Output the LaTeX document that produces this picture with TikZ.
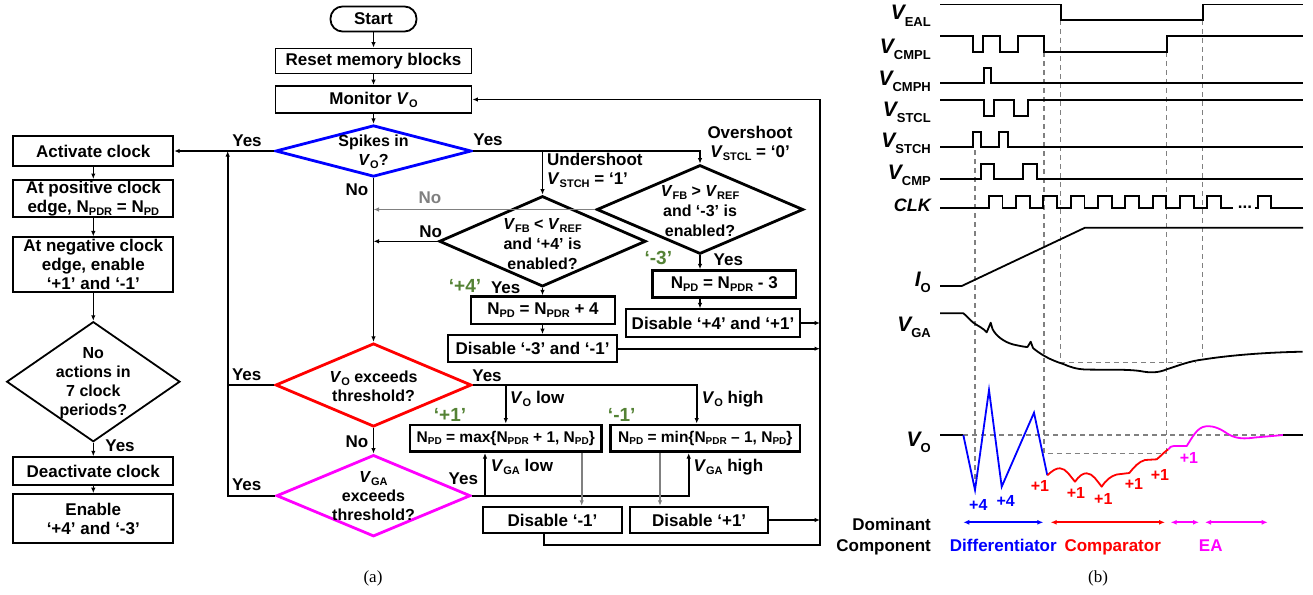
\documentclass[tikz,border=0pt]{standalone}
\usepackage{fontspec}
\setmainfont{Liberation Sans}
\newfontfamily\capfont{Liberation Serif}
\usetikzlibrary{shapes.geometric,arrows.meta}
\definecolor{fgreen}{RGB}{84,130,53}
\definecolor{dgray}{RGB}{128,128,128}
\definecolor{fblue}{RGB}{0,0,255}
\definecolor{fred}{RGB}{255,0,0}
\definecolor{fmag}{RGB}{255,0,255}
\newcommand\sbx[1]{\raisebox{-3pt}{\fontsize{11}{11}\selectfont #1}}
\newcommand\sbs[1]{\raisebox{-2.5pt}{\fontsize{10}{10}\selectfont #1}}
\newcommand\tlab[2]{{\fontsize{21}{21}\selectfont\itshape #1}\raisebox{-6pt}{\fontsize{13}{13}\selectfont #2}}
\begin{document}
\begin{tikzpicture}[x=1pt,y=-1pt,
  every node/.style={font=\fontsize{17}{19}\selectfont\bfseries},
  box/.style={draw, line width=1.8pt, inner sep=0pt, align=center},
  tbox/.style={box, line width=2.8pt},
  dia/.style={diamond, draw, line width=2.8pt, inner sep=0pt},
  txt/.style={align=center, inner sep=0pt, font=\fontsize{16}{19}\selectfont\bfseries},
  conn/.style={line width=1.6pt, -{Latex[length=5.5pt,width=4.5pt]}},
  plain/.style={line width=1.6pt},
  gconn/.style={conn, draw=dgray},
  grn/.style={text=fgreen, font=\fontsize{19}{19}\selectfont\bfseries},
  sig/.style={line width=1.8pt, line join=miter},
  dsh/.style={dgray, line width=1.5pt, dash pattern=on 5pt off 4pt},
  dbl/.style={line width=1.8pt, {Latex[length=6pt,width=5pt]}-{Latex[length=6pt,width=5pt]}},
  tl/.style={anchor=base east, inner sep=0pt},
  captxt/.style={font=\capfont\fontsize{17}{17}\selectfont},
  pl/.style={font=\fontsize{16}{16}\selectfont\bfseries, inner sep=0pt},
]
\useasboundingbox (0,0) rectangle (1313,594);

% ---------------- flowchart (a) ----------------
\node[draw, line width=1.8pt, rounded corners=12pt, minimum width=86pt, minimum height=25pt, inner sep=0pt] (start) at (373.5,19) {Start};
\node[box, minimum width=196pt, minimum height=25pt] (reset) at (373.5,61) {Reset memory blocks};
\node[box, minimum width=196pt, minimum height=27pt] (monitor) at (373.5,99.5) {Monitor \textit{V}\sbx{O}};

\node[dia, draw=fblue, minimum width=196pt, minimum height=51.5pt] (d1) at (373.5,151) {};
\node[txt] at (373.5,151.5) {Spikes in\\\textit{V}\sbx{O}?};

\node[dia, minimum width=206.6pt, minimum height=90.6pt] (d2) at (542.5,241.3) {};
\node[txt] at (542.5,244) {\textit{V}\sbx{FB} < \textit{V}\sbx{REF}\\[1pt]and ‘+4’ is\\[1pt]enabled?};

\node[dia, minimum width=206.6pt, minimum height=89pt] (d3) at (700,209.5) {};
\node[txt] at (700,211) {\textit{V}\sbx{FB} > \textit{V}\sbx{REF}\\[1pt]and ‘-3’ is\\[1pt]enabled?};

\node[dia, draw=fred, minimum width=196pt, minimum height=83.4pt] (d4) at (373.5,385) {};
\node[txt] at (373.5,386) {\textit{V}\sbx{O} exceeds\\threshold?};

\node[dia, draw=fmag, minimum width=194pt, minimum height=81.6pt] (d5) at (373.5,495.7) {};
\node[txt] at (373.5,496.5) {\textit{V}\sbx{GA}\\exceeds\\threshold?};

\node[tbox, minimum width=144pt, minimum height=27.3pt] (b4) at (543,310.3) {N\sbx{PD} = N\sbx{PDR} + 4};
\node[box, minimum width=169.6pt, minimum height=27.3pt] (dis31) at (532.5,348.7) {Disable ‘-3’ and ‘-1’};
\node[tbox, minimum width=143.3pt, minimum height=26.7pt] (b3) at (724.3,284) {N\sbx{PD} = N\sbx{PDR} - 3};
\node[box, minimum width=174pt, minimum height=27.4pt] (dis41) at (713,323) {Disable ‘+4’ and ‘+1’};

\node[tbox, minimum width=191.7pt, minimum height=26.7pt, font=\fontsize{15.5}{17}\selectfont\bfseries] (bmax) at (505.8,438.3) {N\sbs{PD} = max\{N\sbs{PDR} + 1, N\sbs{PD}\}};
\node[tbox, minimum width=189.3pt, minimum height=26.7pt, font=\fontsize{15.5}{17}\selectfont\bfseries] (bmin) at (705.3,438.3) {N\sbs{PD} = min\{N\sbs{PDR} – 1, N\sbs{PD}\}};
\node[box, minimum width=138.4pt, minimum height=26.6pt] (dism1) at (552.5,520) {Disable ‘-1’};
\node[box, minimum width=138.3pt, minimum height=26.6pt] (disp1) at (699.2,520) {Disable ‘+1’};

% left column
\node[box, minimum width=160pt, minimum height=30pt] (act) at (93.3,151) {Activate clock};
\node[box, minimum width=160pt, minimum height=36.7pt] (pos) at (93.3,198.3) {At positive clock\\edge, N\sbx{PDR} = N\sbx{PD}};
\node[box, minimum width=160pt, minimum height=54.7pt] (neg) at (93.3,264.7) {At negative clock\\edge, enable\\‘+1’ and ‘-1’};
\node[dia, line width=1.8pt, minimum width=173.3pt, minimum height=120pt] (dl) at (93.3,381.7) {};
\node[txt] at (93.3,383) {No\\actions in\\7 clock\\periods?};
\node[box, minimum width=160pt, minimum height=27.7pt] (deact) at (93.3,471) {Deactivate clock};
\node[box, minimum width=160pt, minimum height=49.3pt] (en) at (93.3,518.7) {Enable\\‘+4’ and ‘-3’};

\coordinate (rtop) at (820,99.5);
\coordinate (rbot) at (820,545);
\coordinate (lx) at (227.7,0);
\coordinate (vgl) at ([xshift=-20.8pt]bmax.south);
\coordinate (vgh) at ([xshift=-16.6pt]bmin.south);
\coordinate (voh) at ([xshift=-8.6pt]bmin.north);
\coordinate (gm1) at ([xshift=75.9pt]bmax.south);
\coordinate (gp1) at ([xshift=-45.3pt]bmin.south);
\coordinate (dmo) at ([xshift=-8.5pt]dism1.south);

% connectors
\draw[conn] (start) -- (reset);
\draw[conn] (reset) -- (monitor);
\draw[conn] (monitor) -- (d1);
\draw[conn] (d1.west) -- (act.east);
\draw[conn] (d1.east) -| (d3.north);
\draw[conn] (d2.north |- d1.east) -- (d2.north);
\draw[conn] (d1.south) -- (d4.north);
\draw[gconn] (d3.west) -- (d3.west -| d1.south);
\draw[conn] (d2.west) -- (d2.west -| d1.south);
\draw[conn] (d2.south) -- (d2.south |- b4.north);
\draw[conn] (d2.south |- b4.south) -- (d2.south |- dis31.north);
\draw[conn] (dis31.east) -- (dis31.east -| rtop);
\draw[conn] (d3.south) -- (d3.south |- b3.north);
\draw[conn] (d3.south |- b3.south) -- (d3.south |- dis41.north);
\draw[conn] (dis41.east) -- (dis41.east -| rtop);
\draw[plain] (d4.west) -- (d4.west -| lx);
\draw[conn] (d5.west) -- (d5.west -| lx) -- (lx |- d1.west);
\draw[conn] (d4.east) -| (voh);
\draw[conn] (d4.east -| bmax.north) -- (bmax.north);
\draw[conn] (d4.south) -- (d5.north);
\draw[conn] (d5.east) -| (vgh);
\draw[conn] (d5.east -| vgl) -- (vgl);
\draw[gconn] (gm1) -- (gm1 |- dism1.north);
\draw[gconn] (gp1) -- (gp1 |- disp1.north);
\draw[conn] (disp1.east) -- (disp1.east -| rtop);
\draw[conn] (dmo) |- (rbot) -- (rtop) -- (monitor.east);
\draw[conn] (act) -- (pos);
\draw[conn] (pos) -- (neg);
\draw[conn] (neg) -- (dl);
\draw[conn] (dl) -- (deact);
\draw[conn] (deact) -- (en);

% labels
\node at (247,140.5) {Yes};
\node at (488,140) {Yes};
\node at (357,189.3) {No};
\node[text=dgray] at (430,198) {No};
\node at (430.7,231.7) {No};
\node[align=center, inner sep=0pt] at (750,143) {Overshoot\\\textit{V}\sbx{STCL} = ‘0’};
\node[align=left, anchor=west, inner sep=0pt] at (547,170) {Undershoot\\\textit{V}\sbx{STCH} = ‘1’};
\node[grn] at (465,286) {‘+4’};
\node at (505.7,287.3) {Yes};
\node[grn] at (658.3,258.3) {‘-3’};
\node at (728.3,260) {Yes};
\node at (246.7,375) {Yes};
\node at (246.7,485) {Yes};
\node at (487,376) {Yes};
\node[anchor=west, inner sep=0pt] at (510,399.3) {\textit{V}\sbx{O} low};
\node[anchor=west, inner sep=0pt] at (701.7,399.3) {\textit{V}\sbx{O} high};
\node[grn] at (450,415) {‘+1’};
\node[grn] at (621.7,415) {‘-1’};
\node at (357,441.7) {No};
\node at (463.3,478.3) {Yes};
\node[anchor=west, inner sep=0pt] at (490.7,466.7) {\textit{V}\sbx{GA} low};
\node[anchor=west, inner sep=0pt] at (693.3,466.7) {\textit{V}\sbx{GA} high};
\node at (120,446) {Yes};
\node[captxt] at (373,578) {(a)};

% ---------------- timing diagram (b) ----------------
\node[tl] at (931,20) {\tlab{V}{EAL}};
\node[tl] at (931,53.3) {\tlab{V}{CMPL}};
\node[tl] at (931,85) {\tlab{V}{CMPH}};
\node[tl] at (931,116) {\tlab{V}{STCL}};
\node[tl] at (931,147.7) {\tlab{V}{STCH}};
\node[tl] at (931,179.3) {\tlab{V}{CMP}};
\node[tl, font=\fontsize{18}{18}\selectfont\bfseries\itshape] at (931,211.7) {CLK};
\node[tl] at (931,286.7) {\tlab{I}{O}};
\node[tl] at (931,331.7) {\tlab{V}{GA}};
\node[tl] at (931,446.7) {\tlab{V}{O}};
\node[tl] at (931,530.7) {Dominant};
\node[tl] at (931,551.7) {Component};
\node[anchor=base, inner sep=0pt, text=fblue] at (1003.3,551.7) {Differentiator};
\node[anchor=base, inner sep=0pt, text=fred] at (1112.7,551.7) {Comparator};
\node[anchor=base, inner sep=0pt, text=fmag] at (1210.7,551.7) {EA};
\node[captxt] at (1098,578) {(b)};

% dashed guides
\draw[dsh] (975,150) -- (975,490);
\draw[dsh] (1044,52) -- (1044,453.3) -- (1166.7,453.3);
\draw[dsh] (1166.7,52) -- (1166.7,453.3);
\draw[dsh] (1060.7,20) -- (1060.7,362.7) -- (1196,362.7);
\draw[dsh] (1202.7,20) -- (1202.7,357);
\draw[dsh] (963.3,435) -- (1283.3,435);

% digital signals
\draw[sig] (940,4.5) -- (1060.7,4.5) -- (1060.7,20) -- (1202.7,20) -- (1202.7,4.5) -- (1303,4.5);
\draw[sig] (940,35.7) -- (973.3,35.7) -- (973.3,51.7) -- (983.3,51.7) -- (983.3,35.7) -- (1000,35.7) -- (1000,51.7) -- (1018.3,51.7) -- (1018.3,35.7) -- (1044,35.7) -- (1044,51.7) -- (1166.7,51.7) -- (1166.7,35.7) -- (1303,35.7);
\draw[sig] (940,83.3) -- (984,83.3) -- (984,67.7) -- (990.7,67.7) -- (990.7,83.3) -- (1303,83.3);
\draw[sig] (940,100) -- (984,100) -- (984,115.7) -- (994,115.7) -- (994,100) -- (1014,100) -- (1014,115.7) -- (1027.7,115.7) -- (1027.7,100) -- (1303,100);
\draw[sig] (940,146.7) -- (972.7,146.7) -- (972.7,131.7) -- (980.7,131.7) -- (980.7,146.7) -- (999,146.7) -- (999,131.7) -- (1008,131.7) -- (1008,146.7) -- (1303,146.7);
\draw[sig] (940,179) -- (980.7,179) -- (980.7,164) -- (994.3,164) -- (994.3,179) -- (1023.3,179) -- (1023.3,164) -- (1036.7,164) -- (1036.7,179) -- (1303,179);
\draw[sig] (940,207.7) foreach \k in {0,...,8} { -- ({988.7+27.33*\k},207.7) -- ({988.7+27.33*\k},196) -- ({1002.4+27.33*\k},196) -- ({1002.4+27.33*\k},207.7) } -- (1233,207.7);
\node[anchor=base, inner sep=0pt] at (1245,208.5) {...};
\draw[sig] (1255,207.7) -- (1258.3,207.7) -- (1258.3,196) -- (1270.7,196) -- (1270.7,207.7) -- (1303,207.7);
\draw[sig] (940,286) -- (961.7,286) -- (1085,227.7) -- (1303,227.7);

% V_GA
\draw[sig, line join=round] (940,313.3) -- (963.3,313.3)
  .. controls (967,316) and (970,320) .. (973.3,322.7)
  .. controls (978,326) and (983,328) .. (986.7,332.3)
  -- (990.7,322.7) -- (992.5,329)
  .. controls (996,336) and (1004,342) .. (1013.3,344.5)
  .. controls (1020,346) and (1025,347) .. (1027.5,347)
  -- (1030.7,341.7) -- (1033,348)
  .. controls (1040,354) and (1050,360) .. (1063.3,364)
  .. controls (1070,367) and (1076,369) .. (1085,369.5)
  .. controls (1105,370) and (1125,369) .. (1140,371)
  .. controls (1150,373) and (1158,373) .. (1166.7,369.3)
  .. controls (1180,365) and (1190,361) .. (1203,359.5)
  .. controls (1225,356) and (1260,352.5) .. (1302.7,351.7);

% V_O
\draw[sig] (940,435) -- (963.3,435);
\draw[sig, fblue, line join=miter] (963.3,435) -- (975,490) -- (989,390) -- (1001.7,486.7) -- (1034,412.7) -- (1047.3,475.3);
\draw[sig, fred, line join=round] (1047.3,475.3)
  .. controls (1052,471) and (1056,468) .. (1060,468.3)
  .. controls (1066,468.5) and (1070,476) .. (1075,481.7)
  .. controls (1079,476) and (1083,473) .. (1086.7,473.3)
  .. controls (1093,473.5) and (1097,481) .. (1101.7,486.7)
  .. controls (1106,480) and (1111,476) .. (1116.7,474.5)
  -- (1129.3,473)
  .. controls (1134,467) and (1139,461.5) .. (1145,460)
  -- (1156.7,459.3)
  .. controls (1161,456) and (1164,452) .. (1168.3,449.3);
\draw[sig, fmag, line join=round] (1168.3,449.3) .. controls (1170,447) and (1171,446) .. (1174,446)
  -- (1186.7,446)
  .. controls (1192,438) and (1197,427) .. (1206,426.3)
  .. controls (1215,425.5) and (1222,430) .. (1228,434)
  .. controls (1236,439) and (1245,439) .. (1255,437.5)
  -- (1283.3,435);
\draw[sig] (1283.3,435) -- (1303,435);

\node[pl, text=fblue] at (978.3,505) {+4};
\node[pl, text=fblue] at (1005.7,500.7) {+4};
\node[pl, text=fred] at (1040,486) {+1};
\node[pl, text=fred] at (1076,492.7) {+1};
\node[pl, text=fred] at (1103.3,499.3) {+1};
\node[pl, text=fred] at (1134,484) {+1};
\node[pl, text=fred] at (1160,475) {+1};
\node[pl, text=fmag] at (1189,458.3) {+1};

\draw[dbl, fblue] (963.3,522.3) -- (1043.3,522.3);
\draw[dbl, fred] (1050.7,522.3) -- (1165,522.3);
\draw[dbl, fmag] (1170.7,522.3) -- (1199,522.3);
\draw[dbl, fmag] (1205,522.3) -- (1267.7,522.3);
\end{tikzpicture}
\end{document}
